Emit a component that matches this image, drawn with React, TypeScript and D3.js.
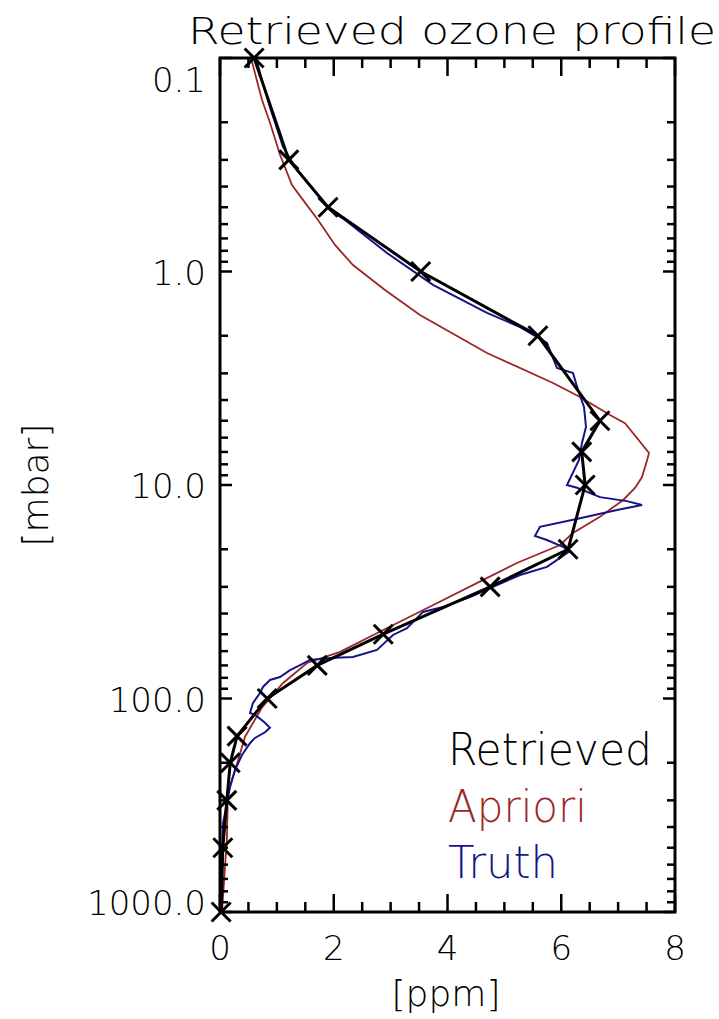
import React from "react";
import * as d3 from "d3";

// Retrieved profile (pressure levels in mbar, ozone in ppm)
const retrievedP = [0.1, 0.3, 0.5, 1, 2, 5, 7, 10, 20, 30, 50, 70, 100, 150, 200, 300, 500, 1000];
const retrievedV = [0.6, 1.21, 1.9, 3.53, 5.59, 6.68, 6.36, 6.42, 6.12, 4.75, 2.87, 1.71, 0.83, 0.3, 0.18, 0.12, 0.05, 0.02];

// A priori profile
const aprioriP = [0.1, 0.157, 0.201, 0.284, 0.394, 0.462, 0.574, 0.751, 0.933, 1.22, 1.6, 2.41, 3.33, 3.87, 4.7, 5.13, 7.08, 7.64, 9.18, 10.3, 11.75, 14.1, 16.8, 19.1, 23.2, 27.9, 35.7, 47.8, 60.5, 68.2, 84.6, 110, 151, 194, 277, 460, 1000];
const aprioriV = [0.545, 0.738, 0.879, 1.055, 1.266, 1.459, 1.723, 2.022, 2.338, 2.901, 3.516, 4.695, 5.855, 6.33, 6.857, 7.121, 7.543, 7.51, 7.42, 7.3, 7.09, 6.68, 6.2, 5.98, 5.22, 4.62, 3.82, 2.87, 2.11, 1.53, 1.11, 0.74, 0.44, 0.32, 0.14, 0.12, 0.035];

// Truth profile
const truthP = [0.1, 0.127, 0.17, 0.261, 0.335, 0.515, 0.574, 0.819, 1.156, 1.563, 1.82, 2.16, 2.83, 2.99, 3.59, 4.31, 5.35, 6.35, 7.64, 10.0, 10.3, 11.4, 11.9, 12.4, 13.1, 14.3, 15.7, 17.3, 18.1, 19.5, 20.4, 24.2, 26.4, 29.4, 33.5, 37.3, 39.3, 46.8, 50.4, 59.2, 63.9, 64.6, 66.0, 69.7, 73.6, 79.3, 81.9, 88.3, 94.2, 105, 117, 119, 130, 137, 144, 153, 162, 184, 216, 260, 309, 383, 552, 1000];
const truthV = [0.633, 0.738, 0.879, 1.108, 1.354, 1.934, 2.198, 2.936, 3.745, 4.695, 5.275, 5.749, 5.925, 6.207, 6.295, 6.4, 6.435, 6.365, 6.312, 6.101, 6.277, 6.681, 7.156, 7.42, 6.98, 6.33, 5.626, 5.538, 5.749, 6.031, 6.154, 5.749, 5.275, 4.87, 4.396, 3.921, 3.569, 3.288, 3.042, 2.76, 2.338, 1.934, 1.582, 1.407, 1.231, 1.055, 0.879, 0.756, 0.703, 0.58, 0.527, 0.615, 0.791, 0.879, 0.791, 0.615, 0.527, 0.387, 0.264, 0.176, 0.123, 0.053, 0.035, 0.02];

const xTickValues = [0, 2, 4, 6, 8];
const xTickLabels = ["0", "2", "4", "6", "8"];
const yTickValues = [0.1, 1, 10, 100, 1000];
const yTickLabels = ["0.1", "1.0", "10.0", "100.0", "1000.0"];

const legendLabels = ["Retrieved", "Apriori", "Truth"];

const W = 719;
const H = 1019;
const L = 220, R = 675, T = 58, B = 912;

const BLACK = "#000000";
const RED = "#9e2626";
const BLUE = "#15158a";
const FONT = "'DejaVu Sans', sans-serif";

export default function App() {
  const x = d3.scaleLinear().domain([0, 8]).range([L, R]);
  const y = d3.scaleLog().domain([0.1, 1000]).range([T, B]);

  const line = d3
    .line<[number, number]>()
    .x((d) => x(d[0]))
    .y((d) => y(d[1]));

  const retrieved = retrievedV.map((v, i) => [v, retrievedP[i]] as [number, number]);
  const apriori = aprioriV.map((v, i) => [v, aprioriP[i]] as [number, number]);
  const truth = truthV.map((v, i) => [v, truthP[i]] as [number, number]);

  const xMinor: number[] = d3.range(0, 8.001, 0.5).filter((v) => !xTickValues.includes(v));
  const yMinor: number[] = [];
  for (let dec = 0.1; dec < 1000; dec *= 10) {
    for (let k = 2; k <= 9; k++) yMinor.push(+(dec * k).toPrecision(3));
  }

  const ms = 9.5;

  return (
    <svg
      width={W}
      height={H}
      style={{ position: "absolute", left: 0, top: 0, background: "#fff" }}
      fontFamily={FONT}
    >
      <rect x={0} y={0} width={W} height={H} fill="#fff" />
      {/* curves */}
      <path d={line(apriori) || ""} fill="none" stroke={RED} strokeWidth={1.8} />
      <path d={line(truth) || ""} fill="none" stroke={BLUE} strokeWidth={2} />
      <path d={line(retrieved) || ""} fill="none" stroke={BLACK} strokeWidth={3} />
      {retrieved.map((d, i) => {
        const cx = x(d[0]);
        const cy = y(d[1]);
        return (
          <g key={i} stroke={BLACK} strokeWidth={3}>
            <line x1={cx - ms} y1={cy - ms} x2={cx + ms} y2={cy + ms} />
            <line x1={cx - ms} y1={cy + ms} x2={cx + ms} y2={cy - ms} />
          </g>
        );
      })}

      {/* axes box */}
      <rect x={L} y={T} width={R - L} height={B - T} fill="none" stroke="#000" strokeWidth={3} />

      {/* x ticks */}
      {xTickValues.map((v) => (
        <g key={"xm" + v} stroke="#000" strokeWidth={2.5}>
          <line x1={x(v)} x2={x(v)} y1={B} y2={B - 18} />
          <line x1={x(v)} x2={x(v)} y1={T} y2={T + 18} />
        </g>
      ))}
      {xMinor.map((v) => (
        <g key={"xn" + v} stroke="#000" strokeWidth={2.5}>
          <line x1={x(v)} x2={x(v)} y1={B} y2={B - 10} />
          <line x1={x(v)} x2={x(v)} y1={T} y2={T + 10} />
        </g>
      ))}
      {/* y ticks */}
      {yTickValues.map((v) => (
        <g key={"ym" + v} stroke="#000" strokeWidth={2.5}>
          <line x1={L} x2={L + 12} y1={y(v)} y2={y(v)} />
          <line x1={R} x2={R - 12} y1={y(v)} y2={y(v)} />
        </g>
      ))}
      {yMinor.map((v) => (
        <g key={"yn" + v} stroke="#000" strokeWidth={2.5}>
          <line x1={L} x2={L + 8} y1={y(v)} y2={y(v)} />
          <line x1={R} x2={R - 8} y1={y(v)} y2={y(v)} />
        </g>
      ))}

      {/* tick labels */}
      {xTickValues.map((v, i) => (
        <text key={"xl" + v} x={x(v)} y={960} textAnchor="middle" fontSize={34} fontWeight={200} fill="#000">
          {xTickLabels[i]}
        </text>
      ))}
      {yTickValues.map((v, i) => (
        <text
          key={"yl" + v}
          x={206}
          y={Math.min(915, Math.max(92, y(v) + 13))}
          textAnchor="end"
          fontSize={34}
          fontWeight={200}
          fill="#000"
        >
          {yTickLabels[i]}
        </text>
      ))}

      {/* axis titles */}
      <text x={446} y={1006} textAnchor="middle" fontSize={36} fontWeight={200} fill="#000">
        [ppm]
      </text>
      <text
        transform={`translate(48, ${y(10)}) rotate(-90)`}
        textAnchor="middle"
        fontSize={36}
        fontWeight={200}
        fill="#000"
      >
        [mbar]
      </text>

      {/* title */}
      <text x={188} y={44} fontSize={38} fontWeight={200} fill="#000" textLength={528} lengthAdjust="spacingAndGlyphs">
        Retrieved ozone profile
      </text>

      {/* legend */}
      <text x={448} y={765} fontSize={44} fontWeight={200} fill={BLACK} textLength={204} lengthAdjust="spacingAndGlyphs">
        {legendLabels[0]}
      </text>
      <text x={448} y={822} fontSize={44} fontWeight={200} fill={RED} textLength={139} lengthAdjust="spacingAndGlyphs">
        {legendLabels[1]}
      </text>
      <text x={448} y={878} fontSize={44} fontWeight={200} fill={BLUE} textLength={110} lengthAdjust="spacingAndGlyphs">
        {legendLabels[2]}
      </text>
    </svg>
  );
}
